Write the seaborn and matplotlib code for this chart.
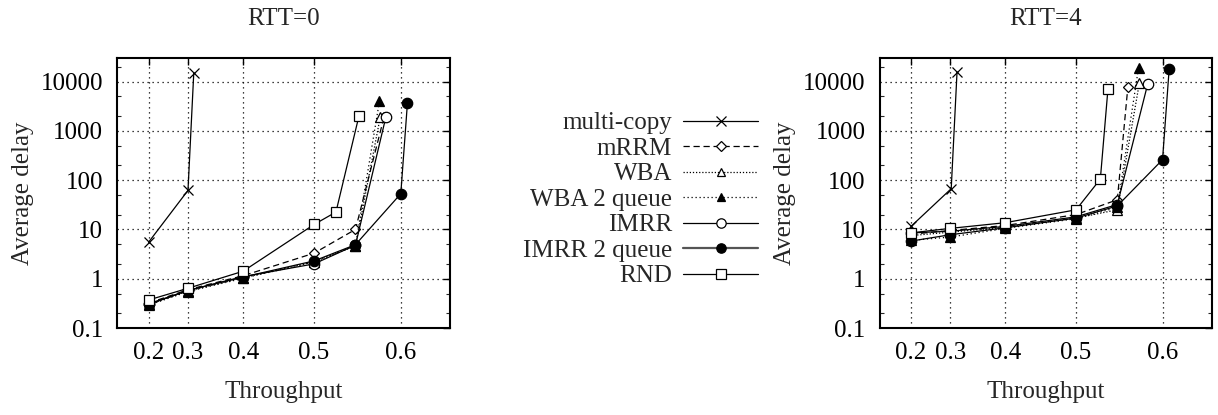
import numpy as np
import pandas as pd
import matplotlib
matplotlib.use("Agg")
import matplotlib.pyplot as plt
from matplotlib.lines import Line2D
from matplotlib.ticker import FixedLocator, LogLocator, NullFormatter
import seaborn as sns

sns.set_theme(style="white")
plt.rcParams["font.family"] = ["Liberation Serif", "DejaVu Serif"]

series_names = ["multi-copy", "mRRM", "WBA", "WBA 2 queue", "IMRR", "IMRR 2 queue", "RND"]

# RTT=0
rtt0_x = {
    "multi-copy": [0.2, 0.3, 0.312],
    "mRRM": [0.2, 0.3, 0.4, 0.5, 0.55, 0.582],
    "WBA": [0.2, 0.3, 0.4, 0.5, 0.55, 0.578],
    "WBA 2 queue": [0.2, 0.3, 0.4, 0.5, 0.55, 0.577],
    "IMRR": [0.2, 0.3, 0.4, 0.5, 0.55, 0.584],
    "IMRR 2 queue": [0.2, 0.3, 0.4, 0.5, 0.55, 0.6, 0.607],
    "RND": [0.2, 0.3, 0.4, 0.5, 0.527, 0.554],
}
rtt0_y = {
    "multi-copy": [5.5, 62, 15000],
    "mRRM": [0.32, 0.6, 1.15, 3.3, 10, 1900],
    "WBA": [0.3, 0.56, 1.05, 2.2, 4.6, 1950],
    "WBA 2 queue": [0.29, 0.55, 1.02, 2.2, 4.7, 4000],
    "IMRR": [0.31, 0.58, 1.1, 2.0, 4.8, 1900],
    "IMRR 2 queue": [0.3, 0.58, 1.08, 2.3, 4.9, 53, 3700],
    "RND": [0.37, 0.64, 1.42, 12.6, 22.5, 2000],
}

# RTT=4
rtt4_x = {
    "multi-copy": [0.2, 0.302, 0.314],
    "mRRM": [0.2, 0.3, 0.4, 0.5, 0.55, 0.562],
    "WBA": [0.2, 0.3, 0.4, 0.5, 0.55, 0.575],
    "WBA 2 queue": [0.2, 0.3, 0.4, 0.5, 0.55, 0.574],
    "IMRR": [0.2, 0.3, 0.4, 0.5, 0.55, 0.584],
    "IMRR 2 queue": [0.2, 0.3, 0.4, 0.5, 0.55, 0.6, 0.607],
    "RND": [0.2, 0.3, 0.4, 0.5, 0.53, 0.539],
}
rtt4_y = {
    "multi-copy": [11.5, 67, 15500],
    "mRRM": [8, 9.5, 12, 20, 40, 7600],
    "WBA": [7.5, 8.8, 11, 17, 25, 9500],
    "WBA 2 queue": [6, 7, 10.5, 16.5, 28, 19000],
    "IMRR": [8.5, 9.2, 11.5, 18, 32, 8800],
    "IMRR 2 queue": [5.8, 7.8, 10.8, 17, 30, 260, 18000],
    "RND": [8.5, 10.5, 13.7, 25, 105, 6900],
}

x_ticks = [0.2, 0.3, 0.4, 0.5, 0.6]
x_tick_labels = ["0.2", "0.3", "0.4", "0.5", "0.6"]
y_ticks = [0.1, 1, 10, 100, 1000, 10000]
y_tick_labels = ["0.1", "1", "10", "100", "1000", "10000"]

styles = {
    "multi-copy": dict(ls="-", marker="x", mfc="none", ms=7.5),
    "mRRM": dict(ls=(0, (5, 3)), marker="D", mfc="white", ms=5.5),
    "WBA": dict(ls=(0, (1, 1.5)), marker="^", mfc="white", ms=7),
    "WBA 2 queue": dict(ls=(0, (1, 2.2)), marker="^", mfc="black", ms=7),
    "IMRR": dict(ls="-", marker="o", mfc="white", ms=7.5),
    "IMRR 2 queue": dict(ls="-", marker="o", mfc="black", ms=7.5),
    "RND": dict(ls="-", marker="s", mfc="white", ms=7.5),
}


def make_df(xs, ys):
    rows = []
    for name in series_names:
        for x, y in zip(xs[name], ys[name]):
            rows.append({"series": name, "throughput": x, "delay": y})
    return pd.DataFrame(rows)


def draw(ax, df, title):
    for name in series_names:
        st = styles[name]
        sub = df[df["series"] == name]
        sns.lineplot(data=sub, x="throughput", y="delay", ax=ax, estimator=None,
                     color="black", lw=0.9, linestyle=st["ls"], marker=st["marker"],
                     markersize=st["ms"], markerfacecolor=st["mfc"],
                     markeredgecolor="black", markeredgewidth=0.9)
    ax.set_xscale("function", functions=(lambda v: np.sign(v) * v ** 2,
                                         lambda v: np.sqrt(np.abs(v))))
    ax.set_yscale("log")
    ax.set_xlim(0, 0.65)
    ax.set_ylim(0.1, 30000)
    ax.xaxis.set_major_locator(FixedLocator(x_ticks))
    ax.set_xticklabels(x_tick_labels)
    ax.yaxis.set_major_locator(FixedLocator(y_ticks))
    ax.set_yticklabels(y_tick_labels)
    ax.yaxis.set_minor_locator(LogLocator(base=10, subs=[2, 5]))
    ax.yaxis.set_minor_formatter(NullFormatter())
    ax.xaxis.set_minor_locator(FixedLocator([]))
    ax.tick_params(which="major", direction="in", length=5, width=1.0,
                   top=True, right=True, labelsize=18, pad=10, colors="black")
    ax.tick_params(which="minor", direction="in", length=3, width=0.8,
                   left=True, right=True)
    ax.grid(True, which="major", color="black", linestyle=(0, (1, 3)), lw=0.9)
    for sp in ax.spines.values():
        sp.set_color("black")
        sp.set_linewidth(1.5)
    ax.set_title(title, fontsize=18, pad=24)
    ax.set_xlabel("Throughput", fontsize=18, labelpad=12)
    ax.set_ylabel("Average delay", fontsize=18, labelpad=5)


fig = plt.figure(figsize=(12.18, 4.15), dpi=100)
ax1 = fig.add_axes([0.0961, 0.2096, 0.2734, 0.6506])
ax2 = fig.add_axes([0.7221, 0.2096, 0.2727, 0.6506])

draw(ax1, make_df(rtt0_x, rtt0_y), "RTT=0")
draw(ax2, make_df(rtt4_x, rtt4_y), "RTT=4")

handles = []
for name in series_names:
    st = styles[name]
    col = "#555555" if name == "IMRR 2 queue" else "black"
    lw = 1.6 if name == "IMRR 2 queue" else 0.9
    handles.append(Line2D([], [], color=col, lw=lw, linestyle=st["ls"],
                          marker=st["marker"], markersize=st["ms"] * 0.9,
                          markerfacecolor=st["mfc"], markeredgecolor="black",
                          markeredgewidth=0.9))
fig.legend(handles, series_names, loc="center", bbox_to_anchor=(0.526, 0.519),
           frameon=False, markerfirst=False, fontsize=18, handlelength=3,
           handletextpad=0.45, labelspacing=0.12, borderpad=0)

fig.savefig("out.png", dpi=100)
